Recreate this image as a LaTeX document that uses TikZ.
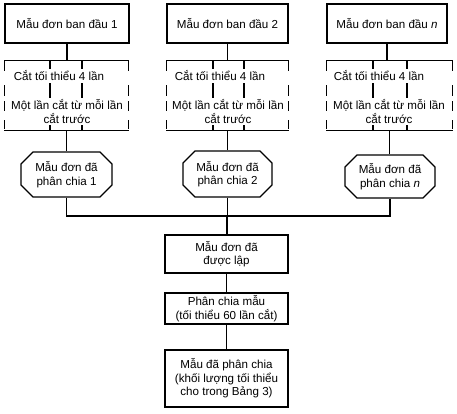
\documentclass[tikz,border=0pt]{standalone}
\usepackage{fontspec}
\setmainfont{Liberation Sans}
\usetikzlibrary{shapes.misc}
\begin{document}
\begin{tikzpicture}[x=1pt,y=-1pt,line width=1.1pt,
  txt/.style={font=\fontsize{11.6}{13.5}\selectfont,align=center},
  plainbox/.style={txt,draw,rectangle,inner sep=0pt},
  cutarea/.style={rectangle,inner sep=0pt},
  cuttext/.style={txt,fill=white,inner sep=1.5pt},
  hexbox/.style={txt,draw,chamfered rectangle,chamfered rectangle xsep=6pt,chamfered rectangle ysep=6pt,inner sep=0pt,line width=1.3pt},
  sidedash/.style={dash pattern=on 11pt off 14pt on 11pt off 5pt on 10pt off 9pt on 9pt}]
\useasboundingbox (0,0) rectangle (457,414);
% top boxes
\node[plainbox,minimum width=124pt,minimum height=39pt] (b1) at (67,23.5) {Mẫu đơn ban đầu 1};
\node[plainbox,minimum width=121pt,minimum height=39pt] (b2) at (227.5,23.5) {Mẫu đơn ban đầu 2};
\node[plainbox,minimum width=120pt,minimum height=39pt] (bn) at (387,23.5) {Mẫu đơn ban đầu \textit{n}};
% cutting areas
\node[cutarea,minimum width=123pt,minimum height=69pt] (d1) at (66.5,95.5) {};
\node[cutarea,minimum width=121pt,minimum height=69pt] (d2) at (227.5,95.5) {};
\node[cutarea,minimum width=125pt,minimum height=69pt] (dn) at (389.5,95.5) {};
\foreach \d/\a/\b in {d1/50/82, d2/213/244, dn/373/407}{
  \draw (\d.north west) -- (\d.north east);
  \draw (\d.south west) -- (\d.south east);
  \draw[sidedash] (\d.north west) -- (\d.south west);
  \draw[sidedash] (\d.north east) -- (\d.south east);
  \draw (\a,61) -- (\a,130);
  \draw (\b,61) -- (\b,130);
}
\node[cuttext] (c1a) at (59,76) {Cắt tối thiểu 4 lần};
\node[cuttext] (c1b) at (67,111.5) {Một lần cắt từ mỗi lần\\cắt trước};
\node[cuttext] (c2a) at (220,76) {Cắt tối thiểu 4 lần};
\node[cuttext] (c2b) at (228,111.5) {Một lần cắt từ mỗi lần\\cắt trước};
\node[cuttext] (cna) at (379,76) {Cắt tối thiểu 4 lần};
\node[cuttext] (cnb) at (389,111.5) {Một lần cắt từ mỗi lần\\cắt trước};
% hexagons
\node[hexbox,minimum width=91pt,minimum height=45pt] (h1) at (66.5,174.5) {Mẫu đơn đã\\phân chia 1};
\node[hexbox,minimum width=89pt,minimum height=46pt] (h2) at (227.5,174) {Mẫu đơn đã\\phân chia 2};
\node[hexbox,minimum width=90pt,minimum height=43pt] (hn) at (390,176.5) {Mẫu đơn đã\\phân chia \textit{n}};
% lower chain
\node[plainbox,minimum width=123pt,minimum height=38pt] (m) at (226.5,254) {Mẫu đơn đã\\được lập};
\node[plainbox,minimum width=123pt,minimum height=31pt] (p) at (226.5,308.5) {Phân chia mẫu\\(tối thiểu 60 lần cắt)};
\node[plainbox,minimum width=123pt,minimum height=57pt] (f) at (226.5,378.5) {Mẫu đã phân chia\\(khối lượng tối thiểu\\cho trong Bảng 3)};
\coordinate (j) at (227,216);
% connectors
\draw (b1.south) -- (b1.south |- d1.north);
\draw (b2.south) -- (b2.south |- d2.north);
\draw (bn.south) -- (bn.south |- dn.north);
\draw (d1.south) -- (d1.south |- h1.north);
\draw (d2.south) -- (d2.south |- h2.north);
\draw (dn.south) -- (dn.south |- hn.north);
\draw (h1.south) |- (j);
\draw (hn.south) |- (j);
\draw (h2.south) -- (h2.south |- j);
\draw (j) -- (j |- m.north);
\draw (m.south) -- (m.south |- p.north);
\draw (p.south) -- (p.south |- f.north);
\end{tikzpicture}
\end{document}
